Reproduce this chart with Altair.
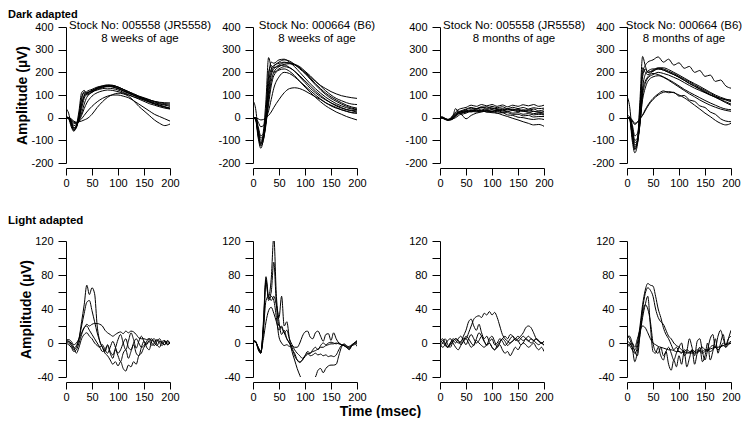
import altair as alt
import pandas as pd

# ---------------- data ----------------
T_TOP = [0, 5, 10, 15, 20, 25, 30, 35, 40, 50, 60, 70, 80, 90, 100, 110, 120, 130, 140, 150, 160, 170, 180, 190, 200]
T_BOT = [0, 5, 10, 15, 20, 25, 30, 35, 40, 45, 50, 55, 60, 65, 70, 75, 80, 85, 90, 95, 100,
         105, 110, 115, 120, 125, 130, 135, 140, 145, 150, 155, 160, 165, 170, 175, 180, 185, 190, 195, 200]

X_TICKS = [0, 50, 100, 150, 200]
Y_TOP_TICKS = [-200, -100, 0, 100, 200, 300, 400]
Y_BOT_TICKS = [-40, -20, 0, 20, 40, 60, 80, 100, 120]

# Dark adapted, JR5558, 8 weeks
DA_JR_8W = [
    [0, -5, -40, -60, -35, 30, 110, 120, 110, 118, 130, 135, 140, 142, 135, 125, 115, 105, 95, 88, 80, 70, 62, 58, 55],
    [40, 20, -30, -55, -45, 10, 80, 115, 105, 115, 125, 132, 138, 138, 130, 118, 108, 98, 90, 82, 74, 66, 60, 55, 50],
    [0, -3, -25, -50, -40, 0, 60, 100, 115, 125, 135, 140, 142, 140, 135, 125, 115, 105, 95, 85, 78, 72, 68, 66, 65],
    [0, 0, -15, -35, -30, -5, 40, 85, 105, 120, 130, 138, 140, 135, 128, 118, 108, 100, 92, 82, 72, 62, 55, 48, 40],
    [0, -2, -20, -45, -35, -10, 20, 60, 90, 112, 122, 128, 130, 128, 122, 112, 102, 92, 82, 72, 62, 55, 48, 42, 38],
    [0, 0, -10, -25, -25, -15, 10, 40, 65, 95, 110, 118, 122, 120, 115, 108, 100, 92, 85, 78, 70, 62, 55, 48, 42],
    [0, 0, -5, -15, -20, -18, -15, -10, -5, 15, 45, 70, 90, 102, 108, 105, 95, 75, 50, 30, 10, -10, -25, -35, -28],
    [0, 0, -8, -20, -22, -15, -5, 10, 25, 50, 70, 85, 95, 100, 100, 95, 88, 75, 60, 45, 30, 15, 5, -5, -15],
    [0, -3, -30, -55, -40, 10, 90, 110, 100, 112, 128, 135, 138, 136, 128, 120, 110, 100, 92, 85, 78, 72, 66, 62, 60],
    [5, 0, -20, -45, -38, -5, 55, 95, 108, 120, 132, 140, 145, 143, 135, 125, 112, 100, 88, 78, 68, 60, 52, 46, 42],
]
# Dark adapted, B6, 8 weeks
DA_B6_8W = [
    [75, 40, -60, -120, -60, 80, 265, 220, 200, 215, 225, 220, 205, 180, 155, 130, 110, 92, 78, 65, 55, 45, 35, 30, 25],
    [0, -10, -90, -135, -90, 30, 180, 245, 240, 255, 258, 245, 225, 200, 175, 150, 128, 108, 90, 75, 62, 52, 44, 38, 35],
    [0, -5, -70, -110, -95, -10, 120, 200, 225, 245, 255, 250, 235, 215, 195, 170, 145, 122, 102, 85, 72, 60, 50, 42, 38],
    [0, -5, -80, -125, -100, 0, 150, 215, 230, 240, 245, 240, 232, 220, 200, 180, 160, 142, 128, 115, 105, 97, 92, 88, 85],
    [0, -3, -60, -100, -90, -30, 80, 160, 200, 225, 235, 238, 235, 225, 205, 185, 162, 140, 118, 100, 85, 75, 66, 60, 58],
    [0, 0, -40, -80, -70, -20, 60, 140, 185, 210, 215, 205, 185, 160, 135, 112, 90, 70, 52, 38, 25, 15, 5, -3, -10],
    [0, 0, -20, -40, -35, -5, 30, 80, 130, 180, 200, 195, 180, 160, 140, 120, 100, 82, 66, 52, 42, 35, 28, 22, 20],
    [0, 0, -5, -10, -8, 0, 10, 25, 45, 80, 110, 128, 132, 128, 118, 105, 92, 80, 65, 55, 45, 35, 28, 22, 20],
    [0, -5, -75, -115, -80, 30, 200, 230, 220, 228, 232, 222, 205, 185, 162, 140, 118, 98, 80, 65, 52, 42, 36, 32, 30],
    [0, -3, -50, -90, -80, -20, 100, 185, 215, 232, 242, 242, 235, 220, 198, 175, 150, 128, 108, 92, 78, 66, 55, 47, 42],
]
# Dark adapted, JR5558, 8 months
DA_JR_8M = [
    [0, 3, -5, -8, -2, 10, 25, 35, 40, 45, 55, 50, 58, 52, 58, 50, 56, 48, 55, 50, 57, 52, 58, 50, 55],
    [0, 0, -8, -10, -5, 5, 15, 25, 30, 38, 45, 40, 48, 42, 50, 44, 48, 40, 46, 40, 45, 38, 44, 40, 42],
    [5, 2, -5, -10, -8, 0, 10, 20, 28, 30, 35, 30, 38, 32, 36, 30, 34, 28, 32, 26, 30, 24, 28, 24, 27],
    [0, 0, -5, -8, -6, 5, 20, 30, 25, 30, 28, 35, 30, 35, 28, 32, 25, 28, 20, 22, 15, 18, 12, 15, 12],
    [0, -2, -6, -10, -8, 0, 12, 22, 20, 28, 25, 32, 28, 30, 25, 28, 22, 22, 15, 15, 8, 10, 3, 5, 5],
    [0, 0, -3, -8, -10, -5, 5, 15, 20, 25, 32, 28, 30, 25, 28, 20, 22, 12, 10, 2, 0, -5, -8, -5, -8],
    [0, 0, -5, -10, -8, 0, 10, 22, 20, 25, 28, 25, 30, 25, 22, 20, 12, 5, -3, -10, -18, -25, -32, -30, -38],
    [0, -3, -8, -12, -5, 10, 40, 25, 15, 20, 30, 40, 45, 48, 42, 40, 35, 40, 35, 38, 30, 35, 28, 25, 20],
    [3, 0, -5, -8, -8, -3, 8, 18, 25, 35, 42, 38, 45, 38, 42, 36, 40, 35, 38, 30, 35, 32, 38, 30, 35],
    [0, 0, -5, -10, -10, -5, 0, 8, 15, -5, 10, 20, 25, 30, 28, 35, 30, 38, 32, 35, 28, 25, 18, 20, 15],
]
# Dark adapted, B6, 8 months
DA_B6_8M = [
    [0, -5, -80, -140, -100, 50, 200, 230, 245, 255, 268, 245, 258, 232, 242, 218, 226, 200, 208, 182, 188, 160, 166, 140, 130],
    [95, 50, -60, -130, -100, 80, 270, 230, 200, 205, 215, 210, 200, 190, 178, 165, 150, 138, 125, 112, 100, 90, 80, 70, 60],
    [0, -5, -100, -155, -120, 20, 220, 200, 190, 205, 218, 215, 205, 195, 182, 170, 158, 145, 132, 120, 108, 95, 85, 78, 70],
    [0, -3, -80, -140, -110, 0, 180, 215, 200, 210, 220, 220, 212, 200, 188, 175, 162, 150, 138, 125, 112, 100, 90, 82, 75],
    [0, 0, -60, -120, -110, -20, 130, 190, 205, 215, 215, 210, 200, 190, 178, 165, 152, 140, 128, 115, 102, 90, 78, 66, 55],
    [0, 0, -40, -100, -90, -30, 100, 150, 175, 190, 200, 195, 188, 178, 168, 155, 142, 130, 120, 110, 100, 92, 85, 80, 78],
    [0, 0, -50, -110, -100, -20, 120, 160, 180, 195, 190, 180, 168, 155, 140, 125, 112, 100, 88, 76, 65, 55, 45, 38, 35],
    [0, -3, -30, -80, -70, -15, 80, 130, 160, 180, 185, 178, 165, 150, 135, 120, 105, 92, 78, 66, 55, 46, 38, 32, 28],
    [0, 0, -10, -25, -20, -5, 10, 30, 50, 80, 100, 112, 115, 110, 100, 88, 72, 55, 38, 20, 5, -12, -25, -32, -25],
    [10, 5, -15, -30, -20, -3, 12, 35, 55, 85, 105, 118, 110, 112, 95, 98, 78, 72, 52, 45, 25, 15, -5, -15, -18],
]
# Light adapted, JR5558, 8 weeks
LA_JR_8W = [
    [2, 0, -3, -8, -5, 5, 25, 45, 68, 57, 65, 58, 20, 2, -5, -10, -3, -12, -18, -8, -15, -22, -12, -8, -18, -10, -2, -12, -15, -5, 2, -5, -8, 3, 5, -2, -5, 2, 3, -2, 0],
    [0, 2, -2, -6, -3, 5, 20, 35, 48, 50, 38, 25, 12, 2, -5, -12, -15, -20, -25, -22, -27, -22, -30, -33, -26, -28, -22, -25, -15, -12, -5, 0, 2, -3, 0, 3, 0, -3, 2, 0, 0],
    [3, 4, 2, -2, 0, 5, 12, 18, 22, 20, 22, 23, 23, 22, 20, 15, 12, 10, 8, 10, 12, 13, 11, 14, 12, 14, 13, 10, 6, 5, 5, 4, 5, 3, 2, 4, 2, 0, 2, -2, 0],
    [0, -2, -5, -10, -8, 0, 10, 18, 20, 15, 10, 5, 0, -5, -10, -8, -2, -10, -14, -6, 4, 10, 0, -8, 2, 12, 4, -6, 2, 8, 2, -2, 3, 5, 0, -3, 2, 0, -2, 3, 0],
    [5, 2, 0, -5, -12, -5, 5, 10, 12, 8, 5, 0, -3, -5, -2, -8, -12, -5, 2, -5, -12, -8, 0, 5, -5, -8, 0, 5, 0, -5, -3, 2, 5, 0, -3, 2, 5, 0, -2, 2, 0],
]
# Light adapted, B6, 8 weeks
LA_B6_8W = [
    [3, 2, -8, -12, 25, 78, 55, 75, 125, 55, 25, 10, 15, 5, 0, -5, -15, -20, -22, -20, -15, -10, -12, -8, -5, -8, -3, 0, -2, 0, 1, 0, -1, 0, -2, -3, -5, -8, -3, 0, 2],
    [2, 1, -6, -12, 20, 72, 52, 60, 95, 45, 20, 18, 12, 5, 0, -8, -12, -20, -23, -20, -16, -13, -12, -10, -9, -7, -5, -5, -3, -2, -1, -1, 0, -1, -2, -3, -5, -7, -3, 0, 3],
    [2, 1, -5, -10, 15, 50, 55, 50, 55, 45, 30, 55, 20, 25, 5, -10, -20, -30, -38, -45, -50, -52, -50, -42, -40, -32, -30, -35, -30, -27, -26, -26, -25, -15, -5, -1, -3, -5, -3, -2, 0],
    [3, 2, -6, -12, 18, 75, 50, 55, 50, 30, 7, 0, -3, -2, -4, -3, -5, -5, 0, 8, 13, 14, 7, 5, 12, 14, 8, 2, 10, 11, 3, 12, 5, 0, -2, -3, -5, -4, -2, 0, 1],
    [2, 1, -5, -10, 5, 25, 38, 42, 35, 25, 15, 20, 12, 15, 5, -2, -8, -12, -15, -18, -15, -12, -15, -14, -12, -14, -13, -15, -14, -16, -15, -16, -14, -8, -3, -2, -4, -6, -3, 0, -4],
]
# Light adapted, JR5558, 8 months
LA_JR_8M = [
    [0, 3, -2, -5, 0, 5, 3, 0, 2, 5, 5, 12, 20, 28, 31, 32, 30, 35, 33, 37, 33, 36, 30, 20, 10, 5, 2, 0, 3, 5, 8, 5, 3, 5, 8, 5, 3, 5, 2, 0, 2],
    [3, 0, -3, -5, -2, 2, 5, 3, 0, 8, 15, 25, 28, 20, 15, 22, 12, 5, 8, 2, 5, -2, 0, 5, 2, -3, 0, 5, 8, 3, 5, 8, 12, 18, 20, 18, 12, 5, 2, 0, -2],
    [-3, 0, 5, -2, -5, 2, 5, 3, -2, 2, 8, 5, 0, -3, 5, 12, 8, 2, -2, 5, 8, 2, -5, 0, 5, 2, -3, 0, 2, 5, 3, -2, 0, 5, 3, 0, 2, 5, 3, 0, 2],
    [0, -5, -2, 3, 5, 0, -5, -8, -3, 2, 5, 0, -5, -2, 3, 0, -3, -5, -2, 0, -5, -8, -5, -2, -8, -12, -10, -15, -10, -5, -8, -3, 0, -2, -5, -3, 0, -5, -8, -5, -10],
    [2, 5, 0, -5, 0, 3, 0, 5, 8, 3, -2, 5, 10, 5, 0, 3, 8, 2, -3, 0, -5, -8, -3, 2, 5, 8, 5, 10, 8, 5, 2, 5, 8, 5, 2, 5, 3, 0, -2, 0, -3],
]
# Light adapted, B6, 8 months
LA_B6_8M = [
    [3, 0, -5, -8, 0, 20, 45, 62, 70, 68, 67, 55, 40, 30, 18, 10, 5, -2, -8, -5, -10, -12, -8, -10, -12, -8, -10, -12, -8, -5, -8, -10, -5, -3, -5, -8, -5, 0, -2, 0, 2],
    [0, -3, -8, -12, -5, 15, 40, 58, 65, 62, 55, 40, 30, 25, 22, 15, 8, 5, 0, -3, -5, -8, -10, -8, -10, -12, -10, -8, -10, -12, -10, -8, -10, -8, -5, -8, -5, -3, -5, -2, 0],
    [10, 5, -5, -22, -10, 10, 30, 45, 55, 20, -10, -12, -5, -15, -20, -10, -25, -32, -20, -28, -15, -25, -10, -28, -18, -8, -25, -12, -5, -22, -15, 0, -20, -10, 5, -12, 0, 10, -5, 5, 15],
    [5, 8, 0, -10, -15, 10, 35, 45, 40, 25, 0, -10, -12, -5, -15, -10, -5, -12, -20, -12, -5, 0, -15, -10, 5, -5, -15, 2, 5, -10, -20, -8, 5, 10, -5, 8, 15, 5, -2, 5, 8],
    [-5, -2, 0, -5, 5, 15, 20, 18, 12, 5, 0, -2, -4, -5, -6, -7, -8, -8, -9, -10, -10, -11, -10, -12, -11, -10, -12, -10, -9, -10, -8, -8, -7, -6, -5, -5, -4, -3, -2, -1, 0],
]

TOP_TITLES = [
    ["Stock No: 005558 (JR5558)", "8 weeks of age"],
    ["Stock No: 000664 (B6)", "8 weeks of age"],
    ["Stock No: 005558 (JR5558)", "8 months of age"],
    ["Stock No: 000664 (B6)", "8 months of age"],
]
PANEL_KEYS = ["da1", "da2", "da3", "da4", "la1", "la2", "la3", "la4"]
PANEL_TRACES = [DA_JR_8W, DA_B6_8W, DA_JR_8M, DA_B6_8M, LA_JR_8W, LA_B6_8W, LA_JR_8M, LA_B6_8M]

rows = []
for key, traces in zip(PANEL_KEYS, PANEL_TRACES):
    grid = T_TOP if key.startswith("da") else T_BOT
    for i, tr in enumerate(traces):
        for t, v in zip(grid, tr):
            rows.append({"panel": key, "trace": i, "t": t, "v": v})
DATA = pd.DataFrame(rows)

FONT = "Liberation Sans"
TITLE_DX = [22, 12, 22, 5]


def make_panel(idx):
    key = PANEL_KEYS[idx]
    top = idx < 4
    col = idx % 4
    if top:
        yscale = alt.Scale(domain=[-200, 400], nice=False, zero=False)
        yaxis = alt.Axis(values=Y_TOP_TICKS, labelExpr="toString(datum.value)")
    else:
        yscale = alt.Scale(domain=[-40, 120], nice=False, zero=False)
        yaxis = alt.Axis(values=Y_BOT_TICKS,
                         labelExpr="datum.value % 40 === 0 ? toString(datum.value) : ''")
    if idx == 5:
        xaxis = alt.Axis(values=X_TICKS, labelExpr="toString(datum.value)",
                         title="Time (msec)", titleX=127, titleY=29,
                         titleAlign="center", titleBaseline="middle")
    else:
        xaxis = alt.Axis(values=X_TICKS, labelExpr="toString(datum.value)", title=None)

    ch = alt.Chart(DATA).transform_filter(alt.datum.panel == key).mark_line(
        color="black", strokeWidth=1, interpolate="monotone", clip=True
    ).encode(
        x=alt.X("t:Q", scale=alt.Scale(domain=[0, 200], nice=False), axis=xaxis),
        y=alt.Y("v:Q", scale=yscale, axis=yaxis,
                title="Amplitude (µV)" if col == 0 else None),
        detail="trace:N",
    )
    if top:
        ch = ch.properties(width=104, height=136, title=alt.TitleParams(
            text=TOP_TITLES[col], font=FONT, fontSize=11.5, fontWeight="normal",
            color="black", anchor="middle", frame="group", dx=TITLE_DX[col],
            offset=-23, lineHeight=13))
    elif idx == 4:
        ch = ch.properties(width=104, height=136, title=alt.TitleParams(
            text="Light adapted", font=FONT, fontSize=11.5, fontWeight="bold",
            color="black", anchor="start", frame="group", dx=-58, offset=9))
    else:
        ch = ch.properties(width=104, height=136)
    return ch


panels = [make_panel(i) for i in range(8)]

chart = alt.concat(
    *panels, columns=4, spacing={"row": 78, "column": 83}, bounds="flush"
).properties(
    title=alt.TitleParams(text="Dark adapted", font=FONT, fontSize=11, fontWeight="bold",
                          color="black", anchor="start", frame="bounds", dx=0, offset=0),
    padding={"left": 0, "top": 0, "right": 0, "bottom": 0},
).configure_view(stroke=None).configure_axis(
    grid=False, domainColor="black", domainWidth=1, tickColor="black", tickWidth=1,
    labelColor="black", labelFont=FONT, labelFontSize=11,
    titleFont=FONT, titleFontSize=14, titleFontWeight="bold", titleColor="black",
).configure_axisX(
    tickSize=7, labelPadding=2, offset=5, labelFlush=False,
).configure_axisY(
    tickSize=8, labelPadding=5, titlePadding=1,
)

chart.save("out.html", embed_options={"renderer": "svg", "actions": False})
